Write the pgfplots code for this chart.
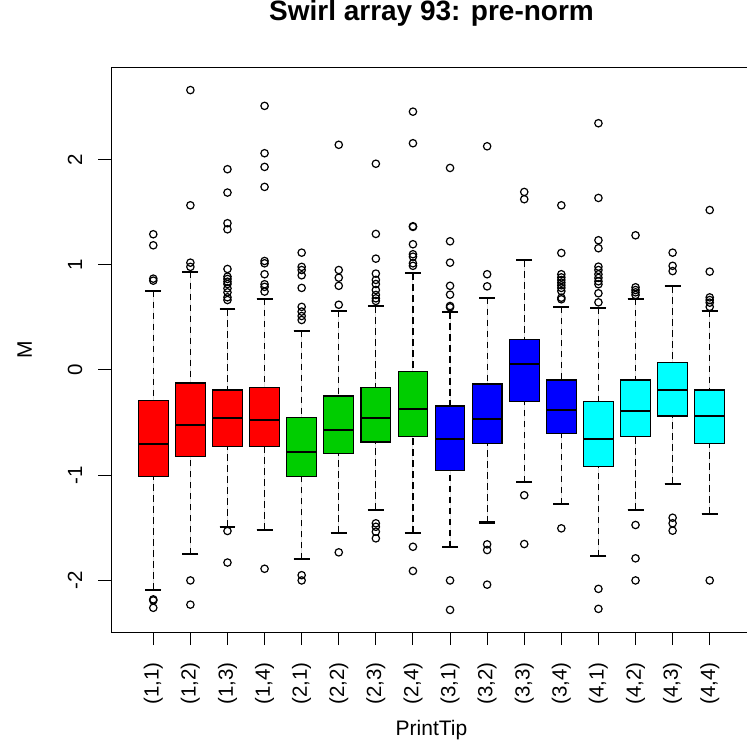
\documentclass[border=0pt]{standalone}
\usepackage{pgfplots}
\pgfplotsset{compat=1.18}
\usepgfplotslibrary{statistics}
\usepackage{fontspec}
\setmainfont{Liberation Sans}
\definecolor{rR}{HTML}{FF0000}
\definecolor{rG}{HTML}{00CD00}
\definecolor{rB}{HTML}{0000FF}
\definecolor{rC}{HTML}{00FFFF}
\pgfplotsset{
  rbox/.style={
    draw=black, line width=1.1pt, fill=#1,
    mark=o, mark size=3.7pt,
    mark options={draw=black, fill=none, solid, line width=1.2pt},
    boxplot/draw direction=y,
    boxplot/box extend=0.8,
    boxplot/whisker extend=0.43,
    boxplot/every median/.style={line width=2.2pt},
    boxplot/draw/lower whisker/.code={%
      \draw[black, line width=1.2pt, dash pattern=on 6.5pt off 4.5pt]
        (boxplot cs:\pgfplotsboxplotvalue{lower whisker})
        -- (boxplot cs:\pgfplotsboxplotvalue{lower quartile});
      \draw[black, solid, line width=2.2pt]
        (boxplot whisker cs:\pgfplotsboxplotvalue{lower whisker},0)
        -- (boxplot whisker cs:\pgfplotsboxplotvalue{lower whisker},1);
    },
    boxplot/draw/upper whisker/.code={%
      \draw[black, line width=1.2pt, dash pattern=on 6.5pt off 4.5pt]
        (boxplot cs:\pgfplotsboxplotvalue{upper whisker})
        -- (boxplot cs:\pgfplotsboxplotvalue{upper quartile});
      \draw[black, solid, line width=2.2pt]
        (boxplot whisker cs:\pgfplotsboxplotvalue{upper whisker},0)
        -- (boxplot whisker cs:\pgfplotsboxplotvalue{upper whisker},1);
    },
  }
}
\begin{document}
\begin{tikzpicture}
\useasboundingbox (0,0) rectangle (747pt,742pt);
\begin{axis}[
  at={(111pt,110pt)}, anchor=south west,
  scale only axis, width=641pt, height=564pt,
  xmin=-0.14, xmax=17.14, ymin=-2.49, ymax=2.87,
  axis line style={line width=1pt, black},
  tick style={line width=1pt, black},
  tick align=outside, tick pos=left,
  major tick length=13pt,
  xtick={1,...,16},
  xticklabels={{(1,1)},{(1,2)},{(1,3)},{(1,4)},{(2,1)},{(2,2)},{(2,3)},{(2,4)},{(3,1)},{(3,2)},{(3,3)},{(3,4)},{(4,1)},{(4,2)},{(4,3)},{(4,4)}},
  ytick={-2,-1,0,1,2},
  yticklabels={{-2},{-1},{0},{1},{2}},
  xticklabel style={yshift=-17pt, rotate=90, anchor=east, inner sep=0pt, font=\fontsize{20.5}{24}\selectfont},
  yticklabel style={xshift=-16pt, rotate=90, anchor=base, inner sep=0pt, font=\fontsize{20.5}{24}\selectfont},
  title={Swirl array 93: pre-norm},
  title style={at={([yshift=41pt]axis description cs:0.5,1)}, anchor=base, inner sep=0pt, font=\bfseries\fontsize{28}{32}\selectfont},
  xlabel={PrintTip},
  xlabel style={at={([yshift=-103pt]axis description cs:0.5,0)}, anchor=base, inner sep=0pt, font=\fontsize{21}{24}\selectfont},
  ylabel={M},
  ylabel style={at={([xshift=-79pt]axis description cs:0,0.5)}, rotate=0, anchor=base, inner sep=0pt, font=\fontsize{21}{24}\selectfont},
]
% (1,1)
\addplot[rbox=rR, boxplot prepared={draw position=1, lower whisker=-2.09, lower quartile=-1.014, median=-0.70, upper quartile=-0.288, upper whisker=0.754}]
  coordinates {(0,1.29) (0,1.185) (0,0.868) (0,0.849) (0,-2.18) (0,-2.19) (0,-2.26)};
% (1,2)
\addplot[rbox=rR, boxplot prepared={draw position=2, lower whisker=-1.752, lower quartile=-0.824, median=-0.52, upper quartile=-0.124, upper whisker=0.935}]
  coordinates {(0,2.66) (0,1.565) (0,1.02) (0,0.98) (0,-2.0) (0,-2.23)};
% (1,3)
\addplot[rbox=rR, boxplot prepared={draw position=3, lower whisker=-1.49, lower quartile=-0.729, median=-0.453, upper quartile=-0.19, upper whisker=0.577}]
  coordinates {(0,1.908) (0,1.686) (0,1.395) (0,1.337) (0,0.96) (0,0.887) (0,0.865) (0,0.839) (0,0.817) (0,0.776) (0,0.738) (0,0.691) (0,0.665) (0,-1.53) (0,-1.83)};
% (1,4)
\addplot[rbox=rR, boxplot prepared={draw position=4, lower whisker=-1.518, lower quartile=-0.729, median=-0.478, upper quartile=-0.165, upper whisker=0.675}]
  coordinates {(0,2.51) (0,2.06) (0,1.93) (0,1.74) (0,1.036) (0,1.014) (0,0.91) (0,0.815) (0,0.79) (0,0.745) (0,-1.889)};
% (2,1)
\addplot[rbox=rG, boxplot prepared={draw position=5, lower whisker=-1.80, lower quartile=-1.014, median=-0.78, upper quartile=-0.453, upper whisker=0.374}]
  coordinates {(0,1.115) (0,0.98) (0,0.95) (0,0.90) (0,0.78) (0,0.60) (0,0.555) (0,0.513) (0,0.475) (0,-1.95) (0,-2.0)};
% (2,2)
\addplot[rbox=rG, boxplot prepared={draw position=6, lower whisker=-1.546, lower quartile=-0.795, median=-0.573, upper quartile=-0.247, upper whisker=0.564}]
  coordinates {(0,2.14) (0,0.95) (0,0.877) (0,0.80) (0,0.62) (0,-1.733)};
% (2,3)
\addplot[rbox=rG, boxplot prepared={draw position=7, lower whisker=-1.33, lower quartile=-0.684, median=-0.453, upper quartile=-0.165, upper whisker=0.608}]
  coordinates {(0,1.96) (0,1.293) (0,1.058) (0,0.916) (0,0.856) (0,0.817) (0,0.760) (0,0.713) (0,0.681) (0,0.656) (0,-1.457) (0,-1.49) (0,-1.537) (0,-1.60)};
% (2,4)
\addplot[rbox=rG, boxplot prepared={draw position=8, lower whisker=-1.546, lower quartile=-0.63, median=-0.371, upper quartile=-0.016, upper whisker=0.919}]
  coordinates {(0,2.455) (0,2.155) (0,1.366) (0,1.36) (0,1.195) (0,1.10) (0,1.077) (0,1.014) (0,0.99) (0,-1.68) (0,-1.91)};
% (3,1)
\addplot[rbox=rB, boxplot prepared={draw position=9, lower whisker=-1.683, lower quartile=-0.957, median=-0.656, upper quartile=-0.342, upper whisker=0.548}]
  coordinates {(0,1.92) (0,1.223) (0,1.02) (0,0.80) (0,0.716) (0,0.608) (0,0.596) (0,-2.0) (0,-2.28)};
% (3,2)
\addplot[rbox=rB, boxplot prepared={draw position=10, lower whisker=-1.45, lower quartile=-0.70, median=-0.463, upper quartile=-0.133, upper whisker=0.687}]
  coordinates {(0,2.126) (0,0.91) (0,0.795) (0,-1.657) (0,-1.711) (0,-2.04)};
% (3,3)
\addplot[rbox=rB, boxplot prepared={draw position=11, lower whisker=-1.068, lower quartile=-0.301, median=0.057, upper quartile=0.29, upper whisker=1.043}]
  coordinates {(0,1.692) (0,1.623) (0,-1.19) (0,-1.654)};
% (3,4)
\addplot[rbox=rB, boxplot prepared={draw position=12, lower whisker=-1.274, lower quartile=-0.605, median=-0.383, upper quartile=-0.095, upper whisker=0.60}]
  coordinates {(0,1.565) (0,1.112) (0,0.91) (0,0.88) (0,0.855) (0,0.83) (0,0.805) (0,0.78) (0,0.75) (0,0.687) (0,0.672) (0,-1.505)};
% (4,1)
\addplot[rbox=rC, boxplot prepared={draw position=13, lower whisker=-1.768, lower quartile=-0.919, median=-0.656, upper quartile=-0.301, upper whisker=0.592}]
  coordinates {(0,2.345) (0,1.635) (0,1.233) (0,1.157) (0,0.982) (0,0.95) (0,0.91) (0,0.875) (0,0.843) (0,0.815) (0,0.729) (0,0.643) (0,-2.08) (0,-2.27)};
% (4,2)
\addplot[rbox=rC, boxplot prepared={draw position=14, lower whisker=-1.328, lower quartile=-0.63, median=-0.393, upper quartile=-0.095, upper whisker=0.675}]
  coordinates {(0,1.28) (0,0.786) (0,0.76) (0,0.738) (0,0.713) (0,-1.473) (0,-1.79) (0,-2.0)};
% (4,3)
\addplot[rbox=rC, boxplot prepared={draw position=15, lower whisker=-1.08, lower quartile=-0.437, median=-0.19, upper quartile=0.07, upper whisker=0.798}]
  coordinates {(0,1.115) (0,0.99) (0,0.94) (0,-1.404) (0,-1.457) (0,-1.527)};
% (4,4)
\addplot[rbox=rC, boxplot prepared={draw position=16, lower whisker=-1.366, lower quartile=-0.70, median=-0.437, upper quartile=-0.19, upper whisker=0.564}]
  coordinates {(0,1.52) (0,0.935) (0,0.69) (0,0.665) (0,0.64) (0,0.60) (0,-2.0)};
\end{axis}
\end{tikzpicture}
\end{document}
